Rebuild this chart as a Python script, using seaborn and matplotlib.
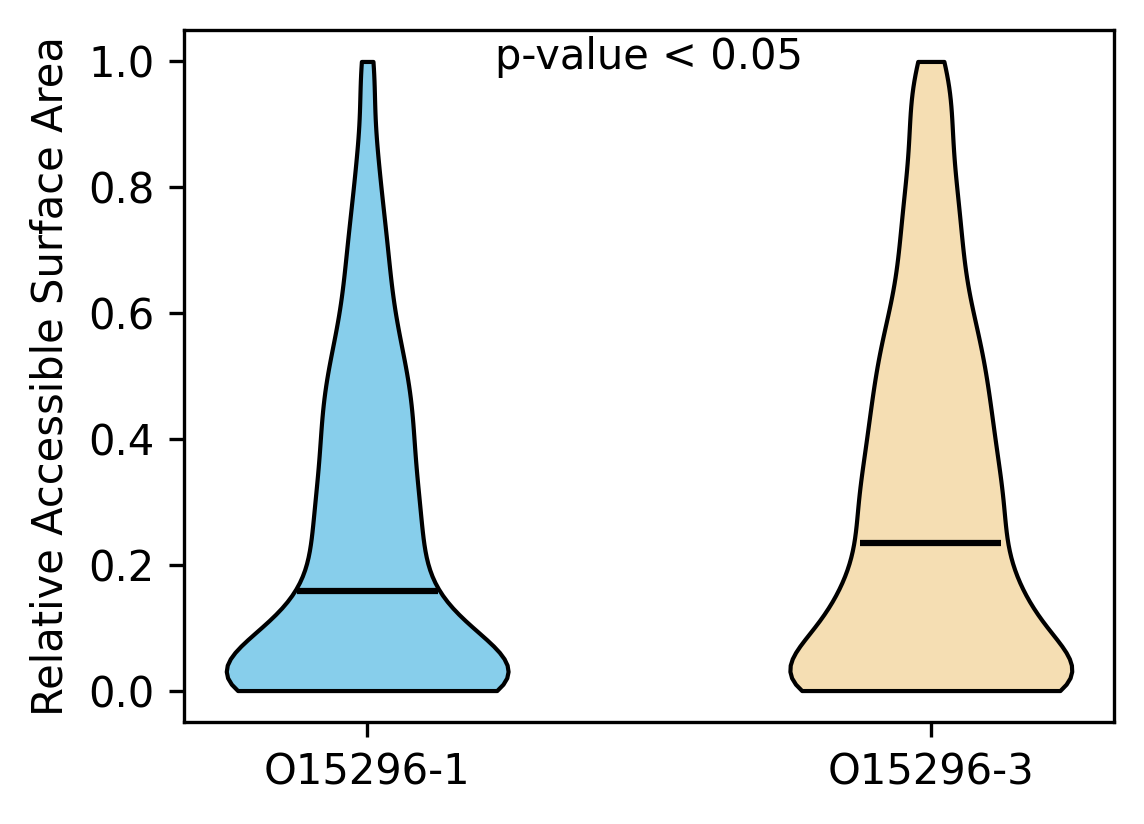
import numpy as np
import pandas as pd
import matplotlib
matplotlib.use("Agg")
import matplotlib.pyplot as plt
import seaborn as sns

categories = ["O15296-1", "O15296-3"]
colors = ["#87CEEB", "#F5DEB3"]

rsa_iso1 = [
    0.0, 0.0, 0.0, 0.0, 0.0, 0.0, 0.0, 0.0, 0.0, 0.0, 0.0, 0.0,
    0.0, 0.0, 0.0, 0.0, 0.0, 0.0, 0.0, 0.0, 0.0, 0.0, 0.0,
    0.002, 0.006, 0.0095, 0.013, 0.017, 0.021, 0.025, 0.0285, 0.032, 0.036,
    0.040, 0.044, 0.047, 0.051, 0.055, 0.059, 0.063, 0.066, 0.070, 0.074,
    0.078, 0.082, 0.085, 0.089, 0.093, 0.097, 0.101, 0.104, 0.108,
    0.114, 0.122, 0.130, 0.138, 0.146, 0.154, 0.162, 0.170, 0.178, 0.186,
    0.194, 0.202, 0.210, 0.218, 0.226,
    0.234, 0.243, 0.252, 0.261, 0.270, 0.278,
    0.286, 0.294, 0.302, 0.310, 0.318,
    0.329, 0.339, 0.349, 0.359, 0.369, 0.378,
    0.388, 0.398, 0.408, 0.418, 0.428, 0.438, 0.448, 0.457,
    0.467, 0.478, 0.489, 0.500, 0.510,
    0.522, 0.535, 0.548, 0.561,
    0.577, 0.594, 0.611,
    0.631, 0.651, 0.671, 0.690,
    0.713, 0.739, 0.765, 0.791,
    0.840, 0.870,
    0.955, 1.0,
]

rsa_iso3 = [
    0.0, 0.0, 0.0, 0.0, 0.0, 0.0, 0.0, 0.0, 0.0, 0.0, 0.0, 0.0, 0.0,
    0.0, 0.0, 0.0, 0.0, 0.0, 0.0, 0.0, 0.0, 0.0, 0.0, 0.0, 0.0,
    0.002, 0.006, 0.010, 0.014, 0.018, 0.022, 0.027, 0.031, 0.035, 0.039,
    0.043, 0.047, 0.051, 0.055, 0.059, 0.063, 0.067, 0.071, 0.076, 0.080,
    0.084, 0.088, 0.092, 0.096, 0.100, 0.104, 0.108, 0.112, 0.116, 0.120,
    0.124, 0.129, 0.133, 0.137, 0.141, 0.145, 0.149, 0.153,
    0.158, 0.164, 0.170, 0.176, 0.182, 0.188, 0.194, 0.200,
    0.206, 0.212, 0.218, 0.224, 0.230,
    0.238, 0.244, 0.250, 0.256, 0.262, 0.268, 0.274, 0.279,
    0.285, 0.291, 0.297, 0.303, 0.309, 0.315, 0.321, 0.327, 0.332,
    0.338, 0.345, 0.352, 0.359, 0.366, 0.373, 0.380,
    0.387, 0.394, 0.401, 0.408, 0.415, 0.422, 0.429, 0.436, 0.443, 0.450, 0.457,
    0.466, 0.474, 0.482, 0.490, 0.498, 0.506, 0.513,
    0.520, 0.529, 0.538, 0.547, 0.556, 0.565,
    0.573, 0.583, 0.593, 0.603, 0.613,
    0.628, 0.641, 0.654, 0.667, 0.680, 0.693,
    0.708, 0.723, 0.738, 0.753, 0.768, 0.783, 0.798,
    0.817, 0.838, 0.859, 0.880, 0.901,
    0.922, 0.944, 0.966, 0.985, 1.0,
]

annotation = "p-value < 0.05"
y_label = "Relative Accessible Surface Area"

groups = [rsa_iso1, rsa_iso3]
target_bw = [0.06, 0.06]

fig = plt.figure(figsize=(1144 / 300, 824 / 300), dpi=300)
ax = fig.add_axes([184 / 1144, 1 - 722 / 824, (1114 - 184) / 1144, (722 - 30) / 824])

for i, (cat, vals, col, bw) in enumerate(zip(categories, groups, colors, target_bw)):
    arr = np.asarray(vals, dtype=float)
    df = pd.DataFrame({"isoform": [cat] * len(arr), "rsa": arr})
    scott = len(arr) ** (-1 / 5) * arr.std(ddof=1)
    sns.violinplot(
        data=df, x="isoform", y="rsa", order=categories, color=col,
        saturation=1, inner=None, cut=0, width=0.5, density_norm="width",
        bw_adjust=bw / scott, linewidth=1.0, linecolor="black", ax=ax,
    )
    med = np.median(arr)
    ax.hlines(med, i - 0.125, i + 0.125, colors="black", linewidth=1.5, zorder=5)

ax.set_xlim(-0.325, 1.325)
ax.set_ylim(-0.05, 1.05)
ax.set_xlabel("")
ax.set_ylabel(y_label, fontsize=10)
ax.tick_params(labelsize=10)
ax.text(0.5, 1.007, annotation, ha="center", va="center", fontsize=10)

fig.savefig("out.png", dpi=300)
